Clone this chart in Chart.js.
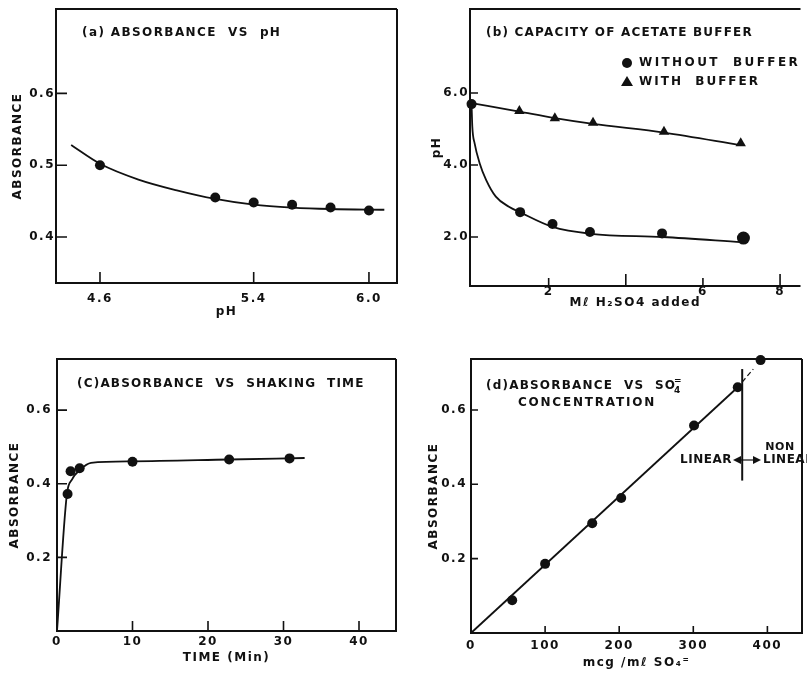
<!DOCTYPE html>
<html>
<head>
<meta charset="utf-8">
<script src="https://cdn.jsdelivr.net/npm/chart.js@4.4.1/dist/chart.umd.min.js"></script>
<style>
  body { margin: 0; background: #fff; width: 807px; height: 675px; position: relative; overflow: hidden; }
  canvas { position: absolute; }
</style>
</head>
<body>
<canvas id="chartA" width="403" height="320" style="left:0;top:0"></canvas>
<canvas id="chartB" width="404" height="320" style="left:403px;top:0"></canvas>
<canvas id="chartC" width="403" height="355" style="left:0;top:320px"></canvas>
<canvas id="chartD" width="404" height="355" style="left:403px;top:320px"></canvas>
<script>
const INK = "#111";
const FONT = "'DejaVu Sans', sans-serif";
const WEIGHT = "bold";

// (a) absorbance vs pH
const phA = [4.6, 5.2, 5.4, 5.6, 5.8, 6.0];
const absA = [0.5, 0.455, 0.448, 0.445, 0.441, 0.437];
const fitPhA = [4.45, 4.6, 4.8, 5.0, 5.2, 5.4, 5.6, 5.8, 6.08];
const fitAbsA = [0.528, 0.502, 0.48, 0.465, 0.453, 0.445, 0.441, 0.439, 0.438];
const ticksXA = [4.6, 5.4, 6.0];
const ticksYA = [0.4, 0.5, 0.6];

// (b) capacity of acetate buffer
const acidNoBuf = [0, 1.26, 2.1, 3.07, 4.94, 7.05];
const phNoBuf = [5.69, 2.69, 2.36, 2.14, 2.1, 1.97];
const acidBuf = [1.24, 2.16, 3.15, 4.99, 6.98];
const phBuf = [5.5, 5.3, 5.17, 4.92, 4.6];
const fitAcidNoBuf = [0, 0.02, 0.08, 0.21, 0.38, 0.63, 0.97, 1.25, 2.1, 3.09, 4.96, 7.0];
const fitPhNoBuf = [5.69, 5.06, 4.6, 4.05, 3.58, 3.12, 2.84, 2.69, 2.28, 2.09, 2.0, 1.86];
const fitAcidBuf = [0, 1.24, 2.16, 3.15, 4.99, 6.98];
const fitPhBuf = [5.72, 5.48, 5.3, 5.14, 4.9, 4.55];
const ticksXB = [2, 4, 6, 8];
const labelsXB = ["2", "", "6", "8"];
const ticksYB = [2, 4, 6];

// (c) absorbance vs shaking time
const timeC = [1.4, 1.8, 3.0, 10, 22.8, 30.8];
const absC = [0.372, 0.434, 0.442, 0.46, 0.466, 0.469];
const fitTimeC = [0, 1.3, 2.0, 3.0, 4.5, 10, 22.8, 32.8];
const fitAbsC = [0, 0.37, 0.412, 0.437, 0.457, 0.461, 0.466, 0.47];
const ticksXC = [0, 10, 20, 30, 40];
const ticksYC = [0.2, 0.4, 0.6];

// (d) absorbance vs sulphate concentration
const concD = [55.6, 100, 163.6, 202.7, 301, 360, 390.8];
const absD = [0.088, 0.186, 0.295, 0.363, 0.558, 0.661, 0.734];
const fitConcD = [0, 360];
const fitAbsD = [0, 0.661];
const extConcD = [366, 381];
const extAbsD = [0.675, 0.71];
const limitConcD = [366, 366];
const limitAbsD = [0.41, 0.71];
const ticksXD = [0, 100, 200, 300, 400];
const ticksYD = [0.2, 0.4, 0.6];

Chart.defaults.font.family = FONT;
Chart.defaults.font.size = 12;
Chart.defaults.font.weight = WEIGHT;
Chart.defaults.color = INK;
Chart.defaults.animation = false;

function xy(xs, ys) {
  return xs.map((x, i) => ({ x, y: ys[i] }));
}

// 枠・内向きの目盛り・図中の文字
const frame = {
  id: "frame",
  beforeDraw(chart) {
    chart.ctx.letterSpacing = "1.5px";
  },
  afterDraw(chart, args, o) {
    const { ctx, chartArea: a, scales } = chart;
    ctx.save();
    ctx.strokeStyle = INK;
    ctx.lineWidth = 2;
    ctx.beginPath();
    ctx.moveTo(a.right, a.top);
    ctx.lineTo(a.left, a.top);
    ctx.lineTo(a.left, a.bottom);
    ctx.lineTo(a.right, a.bottom);
    if (!o.openRight) ctx.lineTo(a.right, a.top);
    ctx.stroke();
    ctx.lineWidth = 1.6;
    ctx.beginPath();
    scales.x.ticks.forEach((t, i) => {
      const px = scales.x.getPixelForValue(t.value);
      const len = o.xTickLens ? o.xTickLens[i] : o.tickLen;
      ctx.moveTo(px, a.bottom);
      ctx.lineTo(px, a.bottom - len);
    });
    scales.y.ticks.forEach((t) => {
      const py = scales.y.getPixelForValue(t.value);
      ctx.moveTo(a.left, py);
      ctx.lineTo(a.left + o.tickLen, py);
    });
    ctx.stroke();
    ctx.fillStyle = INK;
    ctx.textBaseline = "middle";
    (o.texts || []).forEach((t) => {
      ctx.font = `${WEIGHT} ${t.size || 12}px ${FONT}`;
      ctx.letterSpacing = (t.spacing ?? 1.4) + "px";
      ctx.textAlign = t.align || "left";
      ctx.fillText(t.text, t.x, t.y);
    });
    if (o.extra) o.extra(ctx, chart);
    ctx.restore();
  },
};

function axes(cfg) {
  return {
    x: {
      type: "linear",
      min: cfg.xMin,
      max: cfg.xMax,
      grid: { display: false, drawTicks: false },
      border: { display: false },
      afterBuildTicks: (s) => { s.ticks = cfg.xTicks.map((v) => ({ value: v })); },
      afterFit: (s) => { s.height = cfg.xH; },
      ticks: { padding: cfg.xPad, callback: cfg.xFmt || ((v) => String(v)), maxRotation: 0, autoSkip: false },
      title: { display: true, text: cfg.xTitle, padding: { top: 0, bottom: cfg.xTitlePad }, font: { size: 12 } },
    },
    y: {
      type: "linear",
      min: cfg.yMin,
      max: cfg.yMax,
      grid: { display: false, drawTicks: false },
      border: { display: false },
      afterBuildTicks: (s) => { s.ticks = cfg.yTicks.map((v) => ({ value: v })); },
      afterFit: (s) => { s.width = cfg.yW; },
      ticks: { padding: cfg.yPad, callback: cfg.yFmt || ((v) => v.toFixed(1)), autoSkip: false },
      title: { display: true, text: cfg.yTitle, padding: { top: cfg.yTitlePad, bottom: 0 }, font: { size: 12 } },
    },
  };
}

const curve = (data, extra) => Object.assign({
  data, showLine: true, pointRadius: 0, borderColor: INK, borderWidth: 1.8,
  cubicInterpolationMode: "monotone", clip: false,
}, extra);
const dots = (data, extra) => Object.assign({
  data, showLine: false, pointRadius: 5, backgroundColor: INK, borderColor: INK, borderWidth: 0, clip: false,
}, extra);

function base(canvasId, padding, scales, datasets, frameOpts) {
  return new Chart(document.getElementById(canvasId), {
    type: "scatter",
    data: { datasets },
    options: {
      responsive: false,
      devicePixelRatio: 1,
      layout: { padding },
      scales,
      plugins: { legend: { display: false }, tooltip: { enabled: false }, frame: frameOpts },
    },
    plugins: [frame],
  });
}

// (a)
base("chartA", { top: 9, right: 6, left: 0, bottom: 0 },
  axes({
    xMin: 4.371, xMax: 6.146, xTicks: ticksXA, xH: 37, xPad: 9, xFmt: (v) => v.toFixed(1), xTitle: "pH", xTitlePad: 1,
    yMin: 0.336, yMax: 0.7175, yTicks: ticksYA, yW: 56, yPad: 1, yTitle: "ABSORBANCE", yTitlePad: 11,
  }),
  [curve(xy(fitPhA, fitAbsA)), dots(xy(phA, absA))],
  { tickLen: 11, texts: [{ text: "(a) ABSORBANCE  VS  pH", x: 82, y: 33 }] }
);

// (b)
base("chartB", { top: 9, right: 1, left: 0, bottom: 0 },
  axes({
    xMin: -0.04, xMax: 8.53, xTicks: ticksXB, xH: 34, xPad: -1, xFmt: (v) => labelsXB[ticksXB.indexOf(v)],
    xTitle: "Mℓ H₂SO4 added", xTitlePad: 10,
    yMin: 0.64, yMax: 8.33, yTicks: ticksYB, yW: 67, yPad: 1, yTitle: "pH", yTitlePad: 27,
  }),
  [
    curve(xy(fitAcidBuf, fitPhBuf)),
    curve(xy(fitAcidNoBuf, fitPhNoBuf)),
    dots(xy(acidNoBuf, phNoBuf), { pointRadius: [5, 5, 5, 5, 5, 6.5] }),
    dots(xy(acidBuf, phBuf), { pointStyle: "triangle", pointRadius: 6 }),
  ],
  {
    tickLen: 8,
    xTickLens: [8, 12, 8, 12],
    openRight: true,
    texts: [
      { text: "(b) CAPACITY OF ACETATE BUFFER", x: 83, y: 33, spacing: 1.2 },
      { text: "WITHOUT  BUFFER", x: 236, y: 63, spacing: 2.4 },
      { text: "WITH  BUFFER", x: 236, y: 82, spacing: 2.0 },
    ],
    extra(ctx) {
      ctx.beginPath();
      ctx.arc(224, 63, 5, 0, Math.PI * 2);
      ctx.fill();
      ctx.beginPath();
      ctx.moveTo(224, 76);
      ctx.lineTo(230, 86);
      ctx.lineTo(218, 86);
      ctx.closePath();
      ctx.fill();
    },
  }
);

// (c)
base("chartC", { top: 39, right: 7, left: 0, bottom: 0 },
  axes({
    xMin: 0, xMax: 44.9, xTicks: ticksXC, xH: 44, xPad: 4, xTitle: "TIME (Min)", xTitlePad: 10,
    yMin: 0, yMax: 0.739, yTicks: ticksYC, yW: 57, yPad: 5, yTitle: "ABSORBANCE", yTitlePad: 8,
  }),
  [curve(xy(fitTimeC, fitAbsC)), dots(xy(timeC, absC))],
  { tickLen: 10, texts: [{ text: "(C)ABSORBANCE  VS  SHAKING  TIME", x: 77, y: 64, spacing: 1.2 }] }
);

// (d)
base("chartD", { top: 39, right: 1, left: 0, bottom: 0 },
  axes({
    xMin: 0, xMax: 446.7, xTicks: ticksXD, xH: 42, xPad: 6, xTitle: "mcg /mℓ SO₄⁼", xTitlePad: 5,
    yMin: 0, yMax: 0.737, yTicks: ticksYD, yW: 68, yPad: 4, yTitle: "ABSORBANCE", yTitlePad: 24,
  }),
  [
    curve(xy(fitConcD, fitAbsD), { cubicInterpolationMode: "default", tension: 0 }),
    curve(xy(extConcD, extAbsD), { cubicInterpolationMode: "default", tension: 0, borderWidth: 1.2, borderDash: [5, 3] }),
    curve(xy(limitConcD, limitAbsD), { cubicInterpolationMode: "default", tension: 0, borderWidth: 2 }),
    dots(xy(concD, absD)),
  ],
  {
    tickLen: 7,
    texts: [
      { text: "(d)ABSORBANCE  VS  SO", x: 83, y: 66, spacing: 1.2 },
      { text: "CONCENTRATION", x: 184, y: 83, align: "center", spacing: 1.8 },
      { text: "LINEAR", x: 329, y: 140, align: "right", spacing: 0.5 },
      { text: "NON", x: 377, y: 127, align: "center", size: 11, spacing: 0.5 },
      { text: "LINEAR", x: 360, y: 140, spacing: 0.5 },
    ],
    extra(ctx) {
      // SO4= : 上付きの = と下付きの 4
      ctx.font = `${WEIGHT} 9px ${FONT}`;
      ctx.letterSpacing = "0px";
      ctx.textAlign = "left";
      ctx.fillText("=", 271, 61);
      ctx.fillText("4", 271, 71);
      // LINEAR ◄-► NON LINEAR の矢印
      ctx.beginPath();
      ctx.moveTo(330, 140); ctx.lineTo(338, 136); ctx.lineTo(338, 144); ctx.closePath();
      ctx.moveTo(358, 140); ctx.lineTo(350, 136); ctx.lineTo(350, 144); ctx.closePath();
      ctx.fill();
      ctx.lineWidth = 1.2;
      ctx.beginPath();
      ctx.moveTo(338, 140); ctx.lineTo(350, 140);
      ctx.stroke();
    },
  }
);
</script>
</body>
</html>
